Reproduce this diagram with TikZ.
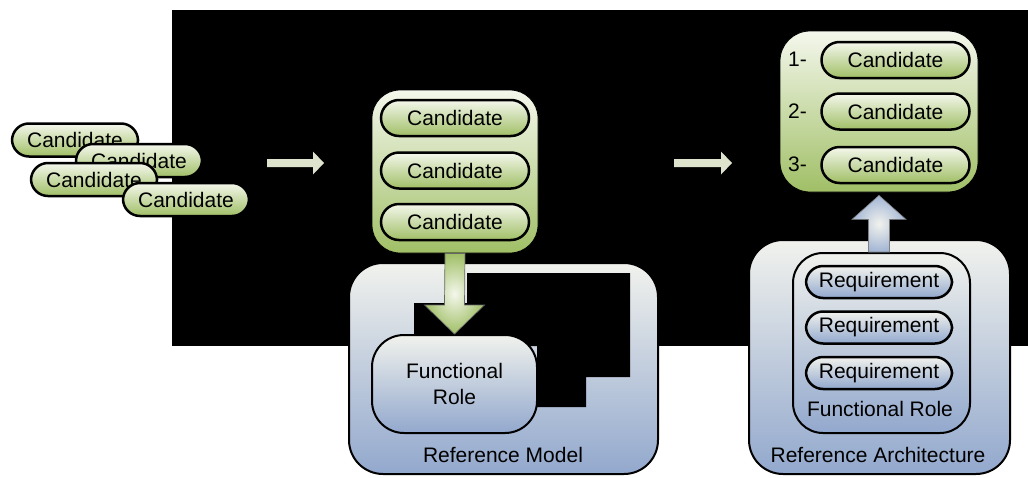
\documentclass[tikz,border=0pt]{standalone}
\usepackage{fontspec}
\setmainfont{Liberation Sans}
\usetikzlibrary{calc}

\definecolor{grntop}{RGB}{244,247,236}
\definecolor{grnbot}{RGB}{160,191,102}
\definecolor{blutop}{RGB}{241,242,237}
\definecolor{blubot}{RGB}{146,168,205}
\definecolor{pale}{RGB}{222,227,206}

\newcommand{\rarrow}[2]{
    \fill[pale] ($(#1)+(0,-4)$) -- ($(#2)+(-11,-4)$) -- ($(#2)+(-11,-11.5)$) -- (#2)
        -- ($(#2)+(-11,11.5)$) -- ($(#2)+(-11,4)$) -- ($(#1)+(0,4)$) -- cycle;
}

\begin{document}
\begin{tikzpicture}[x=1pt,y=-1pt]
                        \tikzstyle{every node}=[font=\fontsize{21}{26}\selectfont]
                        \tikzstyle{cand}=[draw, line width=2.5pt, rounded corners=17pt, top color=grntop, bottom color=grnbot, minimum width=126pt, minimum height=33pt, inner sep=0pt]
                        \tikzstyle{bigcand}=[cand, rounded corners=18pt, minimum width=148pt, minimum height=36pt]
                        \tikzstyle{req}=[cand, top color=blutop, bottom color=blubot, minimum width=146pt, minimum height=32pt]
                        \tikzstyle{grnbox}=[draw, line width=0.8pt, rounded corners=28pt, top color=grntop, bottom color=grnbot, inner sep=0pt]
                        \tikzstyle{blubox}=[draw, line width=2pt, rounded corners=34pt, top color=blutop, bottom color=blubot, inner sep=0pt]
                        \tikzstyle{label}=[inner sep=0pt]
                        \useasboundingbox (0,0) rectangle (1028,477);
                        \fill[white] (0,0) rectangle (1028,477);
                        \fill[black] (172,10) rectangle (1028,346);
                        % loose candidates
                        \node[cand] (c1) at (75,140) {Candidate};
                        \node[cand] (c2) at (139,160.5) {Candidate};
                        \node[cand] (c3) at (94,179.5) {Candidate};
                        \node[cand] (c4) at (186,199.5) {Candidate};
                        \coordinate (a1) at (267,163);
                        \coordinate (a2) at (324,163);
                        \coordinate (a3) at (674,163);
                        \coordinate (a4) at (732,163);
                        \rarrow{a1}{a2}
                        \rarrow{a3}{a4}
                        % filtered candidates
                        \node[grnbox, minimum width=166pt, minimum height=163pt] (mid) at (455,171.5) {};
                        \node[bigcand] (m1) at (455,118) {Candidate};
                        \node[bigcand] (m2) at (455,170.5) {Candidate};
                        \node[bigcand] (m3) at (455,222) {Candidate};
                        % reference model
                        \node[blubox, minimum width=309pt, minimum height=211pt] (refm) at (503.5,368.5) {};
                        \fill[black] (414,303) -- (467,303) -- (467,273) -- (630,273) -- (630,377) -- (586,377)
                            -- (586,407) -- (537,407) -- (537,346) -- (414,346) -- cycle;
                        \node[blubox, rounded corners=32pt, minimum width=165pt, minimum height=98pt, align=center] (frole) at (454.5,384) {Functional\\Role};
                        \node[label] (refmtxt) at (503,455) {Reference Model};
                        \path (mid.south) coordinate (d0) (frole.north) coordinate (d1);
                        \draw[draw=black!60, line width=0.7pt, inner color=grntop, outer color=grnbot]
                            ($(d0)+(-10,0)$) -- ($(d1)+(-10,-29)$) -- ($(d1)+(-30,-29)$) -- (d1)
                            -- ($(d1)+(30,-29)$) -- ($(d1)+(10,-29)$) -- ($(d0)+(10,0)$) -- cycle;
                        % ranked candidates
                        \node[grnbox, rounded corners=30pt, minimum width=198pt, minimum height=161pt] (rank) at (879,111.5) {};
                        \node[bigcand] (r1) at (895.5,60) {Candidate};
                        \node[bigcand] (r2) at (895.5,111.5) {Candidate};
                        \node[bigcand] (r3) at (895.5,165) {Candidate};
                        \node[label, anchor=west] (n1) at (788,59) {1-};
                        \node[label, anchor=west] (n2) at (788,111) {2-};
                        \node[label, anchor=west] (n3) at (788,164) {3-};
                        % reference architecture
                        \node[blubox, minimum width=261pt, minimum height=234pt] (refa) at (879.5,357) {};
                        \node[blubox, rounded corners=30pt, minimum width=177pt, minimum height=180pt] (frole2) at (881.5,343) {};
                        \node[req] (q1) at (879,282) {Requirement};
                        \node[req] (q2) at (879,327.5) {Requirement};
                        \node[req] (q3) at (879,373) {Requirement};
                        \node[label] (frtxt) at (880,409) {Functional Role};
                        \node[label] (refatxt) at (878,455) {Reference Architecture};
                        \path (rank.south) coordinate (u1) (rank.south |- frole2.north) coordinate (u0);
                        \draw[draw=black!50, line width=0.6pt, inner color=blutop, outer color=blubot!85]
                            ($(u0)+(-10.5,0)$) -- ($(u1)+(-10.5,27)$) -- ($(u1)+(-27,27)$) -- ($(u1)+(0,3)$)
                            -- ($(u1)+(27,27)$) -- ($(u1)+(10.5,27)$) -- ($(u0)+(10.5,0)$) -- cycle;
                    \end{tikzpicture}
\end{document}
